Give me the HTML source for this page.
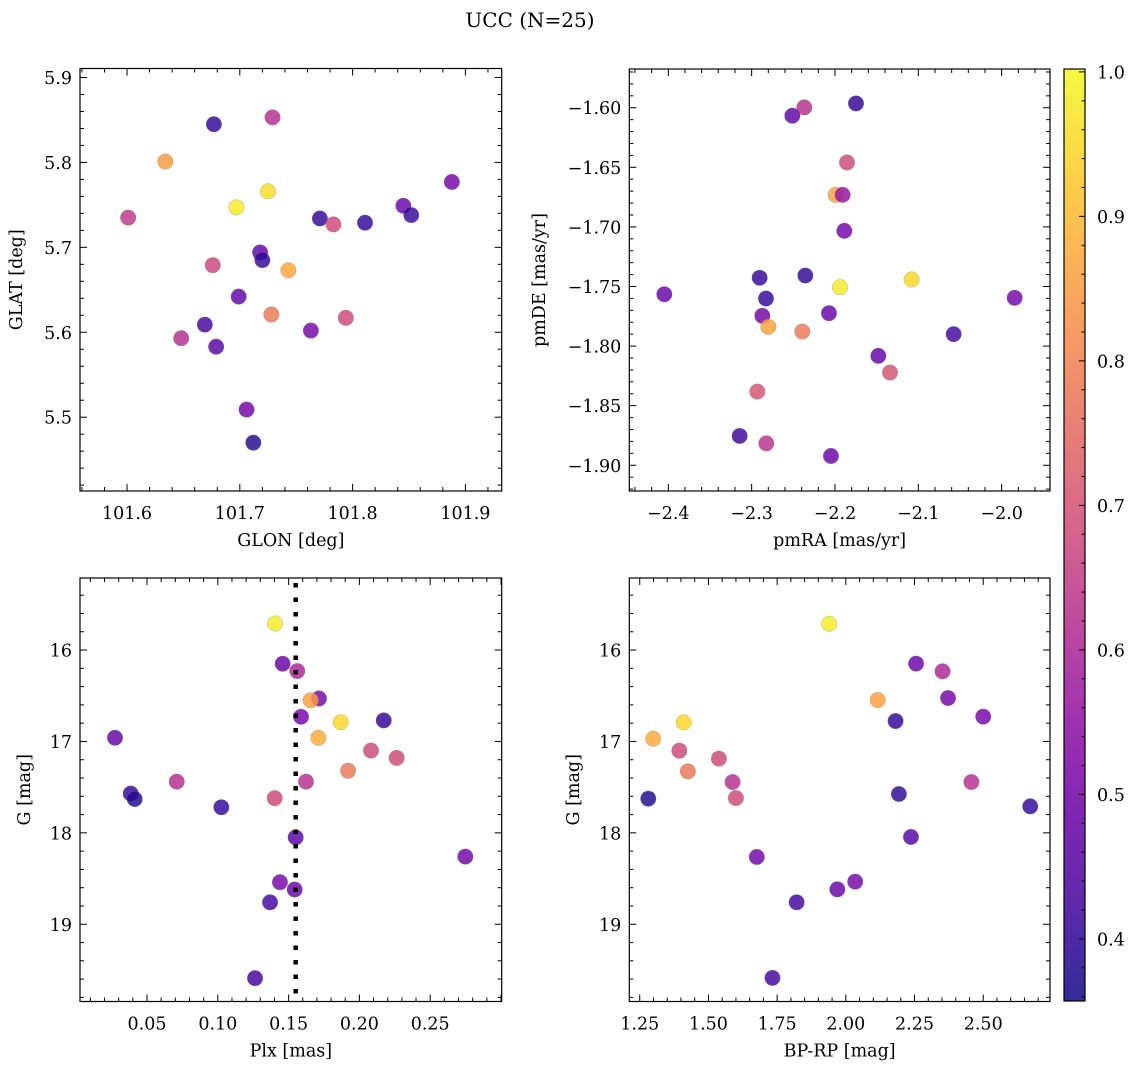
<!DOCTYPE html>
<html><head><meta charset="utf-8">
<style>
html,body{margin:0;padding:0;background:#fff;}
svg{display:block;font-family:"DejaVu Serif","Liberation Serif",serif;}
</style></head>
<body>
<svg id="fig" width="1136" height="1068" viewBox="0 0 1136 1068" xmlns="http://www.w3.org/2000/svg">
<defs>
<linearGradient id="plasma" x1="0" y1="1" x2="0" y2="0">
<stop offset="0" stop-color="#0d0887"/><stop offset="0.1" stop-color="#41049d"/><stop offset="0.2" stop-color="#6a00a8"/><stop offset="0.3" stop-color="#8f0da4"/><stop offset="0.4" stop-color="#b12a90"/><stop offset="0.5" stop-color="#cc4778"/><stop offset="0.6" stop-color="#e16462"/><stop offset="0.7" stop-color="#f2844b"/><stop offset="0.8" stop-color="#fca636"/><stop offset="0.9" stop-color="#fcce25"/><stop offset="1" stop-color="#f0f921"/>
</linearGradient>
</defs>
<text x="530" y="27" text-anchor="middle" font-size="20">UCC (N=25)</text>
</svg>
<script>
// ---- data ----
const glon = [101.677,101.729,101.634,101.725,101.697,101.601,101.771,101.783,101.811,101.845,101.852,101.888,101.718,101.720,101.676,101.743,101.699,101.669,101.648,101.728,101.763,101.794,101.679,101.706,101.712];
const glat = [5.845,5.853,5.801,5.766,5.747,5.735,5.734,5.727,5.729,5.749,5.738,5.777,5.694,5.685,5.679,5.673,5.642,5.609,5.593,5.621,5.602,5.617,5.583,5.509,5.470];
const probP1 = [0.40,0.62,0.85,0.96,0.98,0.64,0.40,0.68,0.40,0.48,0.41,0.50,0.47,0.40,0.67,0.87,0.47,0.43,0.62,0.78,0.50,0.68,0.45,0.50,0.38];

const pmra = [-2.1748,-2.2368,-2.2512,-2.1856,-2.1992,-2.1908,-2.1888,-2.4048,-2.2904,-2.2356,-2.194,-2.108,-2.2828,-2.2872,-2.28,-2.2392,-2.2072,-1.9844,-2.0576,-2.148,-2.134,-2.2932,-2.2824,-2.3144,-2.2048];
const pmde = [-1.5964,-1.5997,-1.6067,-1.6459,-1.6731,-1.6731,-1.7033,-1.7565,-1.7427,-1.7408,-1.7506,-1.7441,-1.7601,-1.7746,-1.7839,-1.7878,-1.7724,-1.7595,-1.79,-1.8082,-1.8222,-1.8382,-1.8816,-1.8754,-1.8922];
const probP2 = [0.40,0.62,0.47,0.68,0.86,0.56,0.50,0.48,0.40,0.40,0.98,0.95,0.40,0.50,0.86,0.78,0.48,0.50,0.42,0.47,0.70,0.70,0.63,0.42,0.48];

const plx = [0.1404,0.1458,0.1561,0.1715,0.1656,0.1588,0.1868,0.2172,0.0274,0.1710,0.2082,0.2263,0.1920,0.0710,0.1623,0.0385,0.0413,0.1402,0.1025,0.155,0.2748,0.1439,0.1543,0.1369,0.1263];
const gPlx = [15.71,16.15,16.23,16.53,16.55,16.73,16.79,16.77,16.96,16.96,17.10,17.18,17.32,17.44,17.44,17.57,17.63,17.62,17.72,18.05,18.26,18.54,18.62,18.76,19.59];
const probP3 = [0.98,0.48,0.60,0.50,0.86,0.50,0.95,0.40,0.47,0.88,0.68,0.68,0.78,0.62,0.62,0.40,0.38,0.68,0.40,0.45,0.50,0.50,0.48,0.42,0.42];
const plxLine = [0.155];

const bprp = [1.9395,2.2557,2.352,2.116,2.372,2.50,2.181,1.410,1.299,1.394,1.538,1.425,1.588,2.457,2.193,1.281,1.600,2.671,2.237,1.676,2.034,1.969,1.821,1.733];
const gCmd = [15.712,16.149,16.233,16.547,16.525,16.729,16.777,16.791,16.970,17.101,17.188,17.327,17.444,17.444,17.575,17.626,17.619,17.710,18.045,18.264,18.534,18.618,18.760,19.587];
const probP4 = [0.98,0.48,0.60,0.86,0.50,0.50,0.40,0.95,0.88,0.68,0.68,0.78,0.62,0.62,0.40,0.38,0.68,0.40,0.45,0.50,0.50,0.48,0.42,0.42];

const tickP1x = [101.6,101.7,101.8,101.9], tickP1y = [5.5,5.6,5.7,5.8,5.9];
const tickP2x = [-2.4,-2.3,-2.2,-2.1,-2.0], tickP2y = [-1.90,-1.85,-1.80,-1.75,-1.70,-1.65,-1.60];
const tickP3x = [0.05,0.10,0.15,0.20,0.25], tickP3y = [16,17,18,19];
const tickP4x = [1.25,1.50,1.75,2.00,2.25,2.50], tickP4y = [16,17,18,19];
const tickCb = [0.4,0.5,0.6,0.7,0.8,0.9,1.0];
const cbMin = 0.357, cbMax = 1.002;

// ---- helpers ----
const NS = "http://www.w3.org/2000/svg";
const svg = document.getElementById('fig');
function mk(tag, attrs, parent){ const e=document.createElementNS(NS,tag); for(const k in attrs) e.setAttribute(k,attrs[k]); (parent||svg).appendChild(e); return e; }
const stops=[[0,[13,8,135]],[0.1,[65,4,157]],[0.2,[106,0,168]],[0.3,[143,13,164]],[0.4,[177,42,144]],[0.5,[204,71,120]],[0.6,[225,100,98]],[0.7,[242,132,75]],[0.8,[252,166,54]],[0.9,[252,206,37]],[1,[240,249,33]]];
function plasma(v){ let t=(v-cbMin)/(cbMax-cbMin); t=Math.max(0,Math.min(1,t));
  for(let i=0;i<stops.length-1;i++){ if(t<=stops[i+1][0]){ const f=(t-stops[i][0])/(stops[i+1][0]-stops[i][0]); const a=stops[i][1],b=stops[i+1][1];
    return 'rgb('+a.map((c,j)=>Math.round(c+(b[j]-c)*f)).join(',')+')'; } } return 'rgb(240,249,33)'; }
function fmt(v,d){ return (v<0?'\u2212':'')+Math.abs(v).toFixed(d); }

function panel(o){
  const g=mk('g',{});
  
  
  const sx=v=>o.x0+(v-o.xmin)/(o.xmax-o.xmin)*(o.x1-o.x0);
  const sy=o.invert? (v=>o.y0+(v-o.ymin)/(o.ymax-o.ymin)*(o.y1-o.y0)) : (v=>o.y1-(v-o.ymin)/(o.ymax-o.ymin)*(o.y1-o.y0));
  const tg=mk('g',{stroke:'#000','stroke-width':1},g);
  
  
  const xs=o.xt[1]-o.xt[0], ys=o.yt[1]-o.yt[0];
  for(let k=-10;k<=(o.xt.length+10)*5;k++){ const v=o.xt[0]+k*xs/5; const p=sx(v); if(p<o.x0-0.5||p>o.x1+0.5) continue; const L=(k%5===0)?7:4;
    mk('line',{x1:p,y1:o.y1,x2:p,y2:o.y1-L},tg); mk('line',{x1:p,y1:o.y0,x2:p,y2:o.y0+L},tg); }
  for(let k=-10;k<=(o.yt.length+10)*5;k++){ const v=o.yt[0]+k*ys/5; const p=sy(v); if(p<o.y0-0.5||p>o.y1+0.5) continue; const L=(k%5===0)?7:4;
    mk('line',{x1:o.x0,y1:p,x2:o.x0+L,y2:p},tg); mk('line',{x1:o.x1,y1:p,x2:o.x1-L,y2:p},tg); }
  o.xt.forEach(v=>{ const t=mk('text',{x:sx(v),y:o.y1+28,'text-anchor':'middle','font-size':17.5},g); t.textContent=fmt(v,o.xd);
      });
  o.yt.forEach(v=>{ const t=mk('text',{x:o.x0-8,y:sy(v)+6.5,'text-anchor':'end','font-size':17.5},g); t.textContent=fmt(v,o.yd);
      });
  const xl=mk('text',{x:(o.x0+o.x1)/2,y:o.y1+55,'text-anchor':'middle','font-size':17.5},g); xl.textContent=o.xlabel;
   
  const cy=(o.y0+o.y1)/2;
  const yl=mk('text',{x:o.ylx,y:cy,'text-anchor':'middle','font-size':17.5,transform:'rotate(-90 '+o.ylx+' '+cy+')'},g); yl.textContent=o.ylabel;
   
  const pg=mk('g',{},g);
   
  for(let i=0;i<o.xs.length;i++){
    const c=mk('circle',{cx:sx(o.xs[i]),cy:sy(o.ys[i]),r:7.8,fill:plasma(o.ps[i]),'fill-opacity':0.82,stroke:'#777','stroke-width':0.4,'stroke-opacity':0.6},pg);
    
    
  }
  if(o.vline){ o.vline.forEach(v=>{ const l=mk('line',{x1:sx(v),y1:o.y0+5,x2:sx(v),y2:o.y1,stroke:'#000','stroke-width':4.5,'stroke-dasharray':'4.5 10'},g);
      }); }
  const fr=mk('rect',{x:o.x0,y:o.y0,width:o.x1-o.x0,height:o.y1-o.y0,fill:'none',stroke:'#000','stroke-width':1.2},g);
   
}

panel({name:'glon-glat-panel',x0:80,x1:501.7,y0:68.5,y1:491,xmin:101.5583,xmax:101.9322,ymin:5.4131,ymax:5.9106,
  xt:tickP1x,yt:tickP1y,xd:1,yd:1,xs:glon,ys:glat,ps:probP1,xlabel:'GLON [deg]',ylabel:'GLAT [deg]',ylx:22});
panel({name:'pm-panel',x0:629.3,x1:1050,y0:69,y1:491,xmin:-2.4468,xmax:-1.942,ymin:-1.9216,ymax:-1.5675,
  xt:tickP2x,yt:tickP2y,xd:1,yd:2,xs:pmra,ys:pmde,ps:probP2,xlabel:'pmRA [mas/yr]',ylabel:'pmDE [mas/yr]',ylx:545});
panel({name:'plx-g-panel',x0:80,x1:501.7,y0:578,y1:1001.5,xmin:0.00268,xmax:0.3005,ymin:15.212,ymax:19.845,invert:true,
  xt:tickP3x,yt:tickP3y,xd:2,yd:0,xs:plx,ys:gPlx,ps:probP3,xlabel:'Plx [mas]',ylabel:'G [mag]',ylx:30,vline:plxLine});
panel({name:'cmd-panel',x0:629.3,x1:1050,y0:578,y1:1001.5,xmin:1.212,xmax:2.743,ymin:15.212,ymax:19.845,invert:true,
  xt:tickP4x,yt:tickP4y,xd:2,yd:0,xs:bprp,ys:gCmd,ps:probP4,xlabel:'BP-RP [mag]',ylabel:'G [mag]',ylx:579});

(function(){
  const x0=1064,x1=1085,y0=69,y1=1001;
  const g=mk('g',{});
   
  mk('rect',{x:x0,y:y0,width:x1-x0,height:y1-y0,fill:'url(#plasma)','fill-opacity':0.85},g);
  const sy=v=>y1-(v-cbMin)/(cbMax-cbMin)*(y1-y0);
  for(let k=-5;k<=40;k++){ const v=tickCb[0]+k*0.02; const p=sy(v); if(p<y0||p>y1) continue; const L=(k%5===0)?6:3.5;
    mk('line',{x1:x1,y1:p,x2:x1-L,y2:p,stroke:'#000','stroke-width':1},g); }
  tickCb.forEach(v=>{ const t=mk('text',{x:x1+12,y:sy(v)+6.5,'font-size':17.5},g); t.textContent=v.toFixed(1);
      });
  mk('rect',{x:x0,y:y0,width:x1-x0,height:y1-y0,fill:'none',stroke:'#000','stroke-width':1.2},g);
})();
</script>
</body></html>
